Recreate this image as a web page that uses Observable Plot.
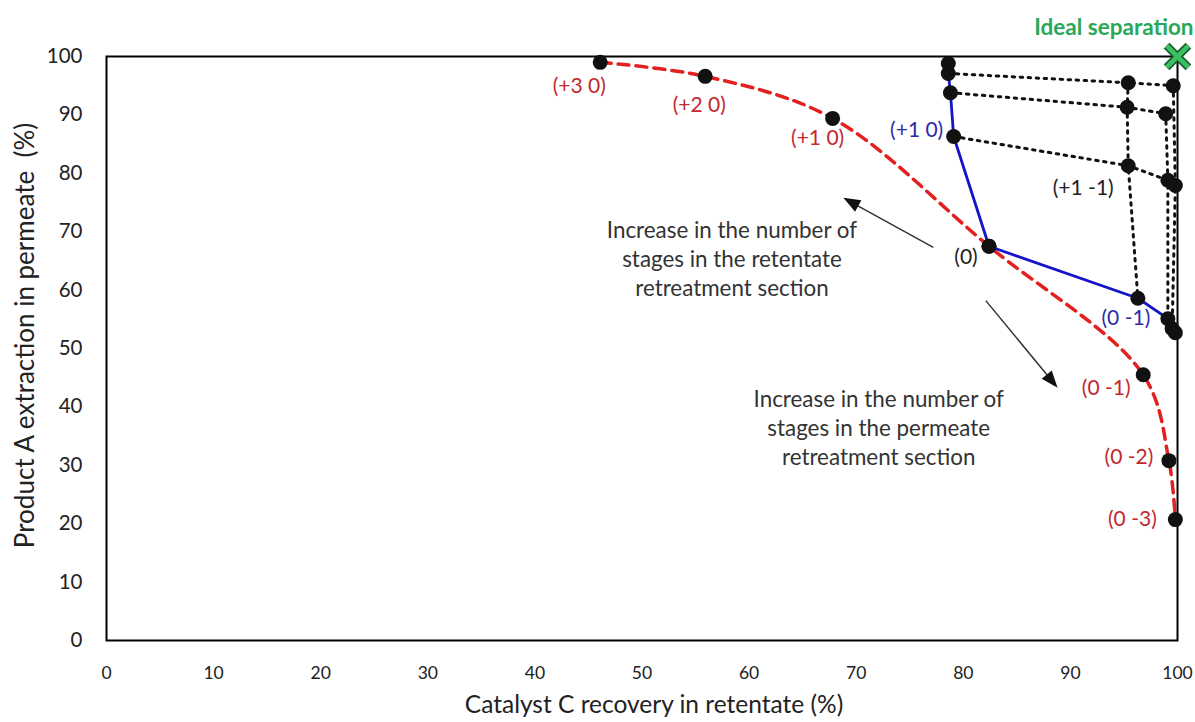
<!DOCTYPE html>
<html><head><meta charset="utf-8">
<script src="https://cdn.jsdelivr.net/npm/d3@7"></script>
<script src="https://cdn.jsdelivr.net/npm/@observablehq/plot@0.6"></script>
<style>
body{margin:0;background:#fff;}
svg{font-family:Lato, "Open Sans", sans-serif;}
svg g[aria-label^="x-axis"] text{font-size:17.5px;fill:#222;}
svg g[aria-label^="y-axis"] text{font-size:20.5px;fill:#222;}
</style></head><body><div id="chart"></div>
<script>
// ---------- data ----------
const xTicks = [0, 10, 20, 30, 40, 50, 60, 70, 80, 90, 100];
const yTicks = [0, 10, 20, 30, 40, 50, 60, 70, 80, 90, 100];

// red dashed curve (single retreatment section)
const redStages = ["(+3 0)", "(+2 0)", "(+1 0)", "(0)", "(0 -1)", "(0 -2)", "(0 -3)"];
const redX = [46.1, 55.9, 67.8, 82.4, 96.8, 99.2, 99.8];
const redY = [99.0, 96.6, 89.4, 67.5, 45.5, 30.8, 20.7];

// blue solid line
const blueStages = ["(+4 0)", "(+3 0)", "(+2 0)", "(+1 0)", "(0)", "(0 -1)", "(0 -2)", "(0 -3)", "(0 -4)"];
const blueX = [78.6, 78.6, 78.8, 79.1, 82.4, 96.3, 99.1, 99.5, 99.8];
const blueY = [98.8, 97.1, 93.8, 86.3, 67.5, 58.6, 55.1, 53.4, 52.7];

// combined configurations (dotted grid)
const gridStages = ["(+3 -1)", "(+3 -2)", "(+2 -1)", "(+2 -2)", "(+1 -1)", "(+1 -2)", "(+1 -3)"];
const gridX = [95.4, 99.6, 95.3, 98.9, 95.4, 99.1, 99.8];
const gridY = [95.5, 95.0, 91.3, 90.2, 81.3, 78.8, 77.9];

// dotted connections
const dottedPaths = [
  ["(+3 0)", "(+3 -1)", "(+3 -2)"],
  ["(+2 0)", "(+2 -1)", "(+2 -2)"],
  ["(+1 0)", "(+1 -1)", "(+1 -2)", "(+1 -3)"],
  ["(+3 -1)", "(+2 -1)", "(+1 -1)", "(0 -1)"],
  ["(+2 -2)", "(+1 -2)", "(0 -2)"],
  ["(+3 -2)", "(+1 -3)", "(0 -3)"]
];

// labelled points
const redLabelStages = ["(+3 0)", "(+2 0)", "(+1 0)", "(0 -1)", "(0 -2)", "(0 -3)"];
const blueLabelStages = ["(+1 0)", "(0 -1)"];
const blackLabelStages = ["(0)", "(+1 -1)"];

// ideal point
const idealX = [100], idealY = [100], idealText = ["Ideal separation"];

// annotations
const noteX = [58.4, 72.1];
const noteY = [65.6, 36.6];
const noteText = [
  "Increase in the number of\nstages in the retentate\nretreatment section",
  "Increase in the number of\nstages in the permeate\nretreatment section"
];
const arrowX1 = [77.2, 82.1], arrowY1 = [67.3, 58.2];
const arrowX2 = [68.8, 88.8], arrowY2 = [75.8, 43.3];

const xLabel = "Catalyst C recovery in retentate (%)";
const yLabel = "Product A extraction in permeate  (%)";

// ---------- layout / styles ----------
const W = 1195, H = 722, mL = 106, mR = 18, mT = 56, mB = 82;
const RED = "#e3201f", BLUE = "#1414c8", RED_T = "#c3282e", BLUE_T = "#2c2ca8", GREEN = "#29a85a";
const redOff = {"(+3 0)": [-21, 24], "(+2 0)": [-6, 29], "(+1 0)": [-15, 20], "(0 -1)": [-37, 13], "(0 -2)": [-40, -3], "(0 -3)": [-43, 0]};
const blueOff = {"(+1 0)": [-37, -6], "(0 -1)": [-12, 20]};
const blackOff = {"(0)": [-23, 11], "(+1 -1)": [-45, 23]};

// ---------- build tables ----------
const red = redStages.map((s, i) => ({s, x: redX[i], y: redY[i]}));
const blue = blueStages.map((s, i) => ({s, x: blueX[i], y: blueY[i]}));
const grid = gridStages.map((s, i) => ({s, x: gridX[i], y: gridY[i]}));
const lookup = new Map([...blue, ...grid].map(d => [d.s, d]));
const dotted = dottedPaths.flatMap((p, k) => p.map(s => ({id: k, x: lookup.get(s).x, y: lookup.get(s).y})));
const allDots = [...red, ...blue, ...grid];
const notes = noteText.map((t, i) => ({x: noteX[i], y: noteY[i], t}));

// arrow geometry (filled heads) computed in pixel space
const sx = d3.scaleLinear([0, 100], [mL, W - mR]);
const sy = d3.scaleLinear([0, 100], [H - mB, mT]);
const arrowLines = [], arrowHeads = [];
arrowX1.forEach((_, i) => {
  const tx = sx(arrowX1[i]), ty = sy(arrowY1[i]), hx = sx(arrowX2[i]), hy = sy(arrowY2[i]);
  const len = Math.hypot(hx - tx, hy - ty), ux = (hx - tx) / len, uy = (hy - ty) / len;
  const L = 17, Wd = 13, bx = hx - ux * L, by = hy - uy * L, nx = -uy, ny = ux;
  arrowLines.push({x1: arrowX1[i], y1: arrowY1[i], x2: sx.invert(bx + ux * 2), y2: sy.invert(by + uy * 2)});
  [[hx, hy], [bx + nx * Wd / 2, by + ny * Wd / 2], [bx - nx * Wd / 2, by - ny * Wd / 2]]
    .forEach(([px, py]) => arrowHeads.push({id: i, x: sx.invert(px), y: sy.invert(py)}));
});

const labelMarks = [];
for (const s of redLabelStages) {
  const d = red.find(r => r.s === s);
  labelMarks.push(Plot.text([d], {x: "x", y: "y", text: "s", dx: redOff[s][0], dy: redOff[s][1], fill: RED_T, fontSize: 21}));
}
for (const s of blueLabelStages) {
  const d = blue.find(r => r.s === s);
  labelMarks.push(Plot.text([d], {x: "x", y: "y", text: "s", dx: blueOff[s][0], dy: blueOff[s][1], fill: BLUE_T, fontSize: 21}));
}
for (const s of blackLabelStages) {
  const d = lookup.get(s);
  labelMarks.push(Plot.text([d], {x: "x", y: "y", text: "s", dx: blackOff[s][0], dy: blackOff[s][1], fill: "#222", fontSize: 21}));
}

const chart = Plot.plot({
  width: W, height: H,
  marginLeft: mL, marginRight: mR, marginTop: mT, marginBottom: mB,
  style: {fontFamily: "Lato, 'Open Sans', sans-serif", fontSize: "18px", background: "white", color: "#222"},
  x: {domain: [0, 100], ticks: xTicks, tickSize: 0, tickPadding: 26, label: null},
  y: {domain: [0, 100], ticks: yTicks, tickSize: 0, tickPadding: 24, label: null},
  marks: [
    Plot.frame({stroke: "black", strokeWidth: 2}),
    Plot.line(red, {x: "x", y: "y", stroke: RED, strokeWidth: 3.5, strokeDasharray: "11,7", curve: "catmull-rom"}),
    Plot.line(dotted, {x: "x", y: "y", z: "id", stroke: "#111", strokeWidth: 3, strokeDasharray: "2.5,5.5"}),
    Plot.line(blue, {x: "x", y: "y", stroke: BLUE, strokeWidth: 2.8}),
    Plot.link(arrowLines, {x1: "x1", y1: "y1", x2: "x2", y2: "y2", stroke: "#333", strokeWidth: 1.5}),
    Plot.line(arrowHeads, {x: "x", y: "y", z: "id", fill: "#111", stroke: "none", curve: "linear-closed"}),
    Plot.dot(allDots, {x: "x", y: "y", r: 7.5, fill: "#111"}),
    ...labelMarks,
    Plot.text(notes, {x: "x", y: "y", text: "t", fontSize: 22.4, lineHeight: 1.3, fill: "#333"}),
    Plot.dot(idealX.map((x, i) => ({x, y: idealY[i]})), {x: "x", y: "y", symbol: "times", r: 10, stroke: "#17602f", strokeWidth: 8}),
    Plot.dot(idealX.map((x, i) => ({x, y: idealY[i]})), {x: "x", y: "y", symbol: "times", r: 10, stroke: "#3cc064", strokeWidth: 4.5}),
    Plot.text(idealText.map((t, i) => ({t, x: idealX[i], y: idealY[i]})), {x: "x", y: "y", text: "t", textAnchor: "end", dx: 16, dy: -29, fill: GREEN, fontWeight: "bold", fontSize: 22.5}),
    Plot.text([xLabel], {frameAnchor: "bottom", textAnchor: "middle", lineAnchor: "middle", dy: 65, dx: 12, fontSize: 24.5, fill: "#222"}),
    Plot.text([yLabel], {frameAnchor: "left", textAnchor: "middle", lineAnchor: "middle", rotate: -90, dx: -81, dy: -13, fontSize: 26, fill: "#222"})
  ]
});
document.getElementById("chart").appendChild(chart);
</script></body></html>
